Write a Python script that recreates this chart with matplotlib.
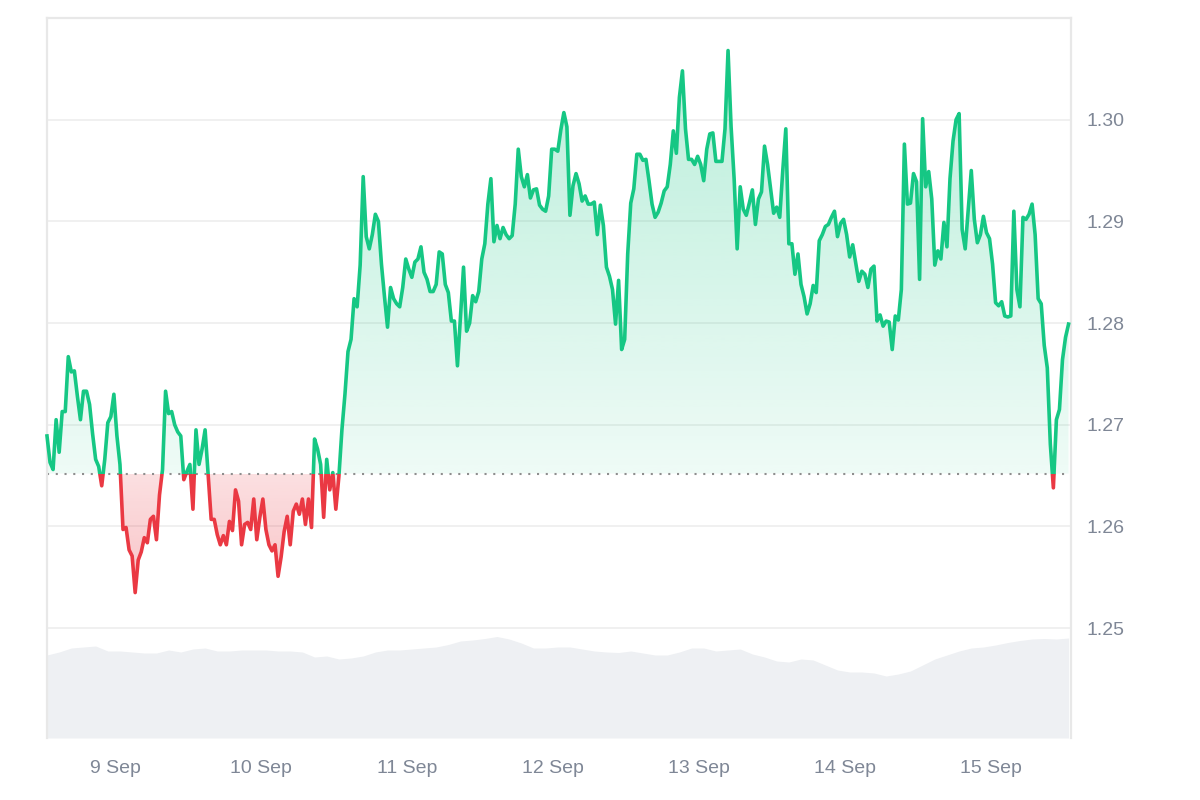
import numpy as np
import pandas as pd
import matplotlib
matplotlib.use("Agg")
import matplotlib.pyplot as plt
import matplotlib.dates as mdates
from matplotlib.colors import to_rgb
from matplotlib.patches import Rectangle
from matplotlib.path import Path

# precio cada 30 minutos desde 8 Sep 12:45
price = [
    1.2689, 1.2663, 1.2656, 1.2705, 1.2673, 1.2713, 1.2713, 1.2767, 1.2752, 1.2753,
    1.2728, 1.2705, 1.2733, 1.2733, 1.2720, 1.2691, 1.2666, 1.2659, 1.2640, 1.2666,
    1.2702, 1.2708, 1.2730, 1.2689, 1.2661, 1.2597, 1.2599, 1.2577, 1.2571, 1.2535,
    1.2567, 1.2575, 1.2589, 1.2584, 1.2607, 1.2610, 1.2587, 1.2631, 1.2656, 1.2733,
    1.2711, 1.2713, 1.2700, 1.2693, 1.2689, 1.2646, 1.2654, 1.2661, 1.2617, 1.2695,
    1.2661, 1.2676, 1.2695, 1.2651, 1.2607, 1.2607, 1.2592, 1.2582, 1.2591, 1.2582,
    1.2605, 1.2596, 1.2636, 1.2625, 1.2582, 1.2602, 1.2604, 1.2597, 1.2627, 1.2587,
    1.2609, 1.2627, 1.2597, 1.2582, 1.2576, 1.2582, 1.2551, 1.2570, 1.2595, 1.2610,
    1.2582, 1.2615, 1.2622, 1.2612, 1.2627, 1.2602, 1.2627, 1.2599, 1.2686, 1.2676,
    1.2661, 1.2609, 1.2666, 1.2636, 1.2653, 1.2617, 1.2649, 1.2695, 1.2730, 1.2772,
    1.2784, 1.2824, 1.2816, 1.2857, 1.2944, 1.2885, 1.2873, 1.2887, 1.2907, 1.2900,
    1.2858, 1.2826, 1.2796, 1.2835, 1.2824, 1.2819, 1.2816, 1.2835, 1.2863, 1.2853,
    1.2845, 1.2860, 1.2863, 1.2875, 1.2850, 1.2843, 1.2831, 1.2831, 1.2838, 1.2870,
    1.2868, 1.2838, 1.2830, 1.2802, 1.2802, 1.2758, 1.2806, 1.2855, 1.2792, 1.2800,
    1.2827, 1.2821, 1.2831, 1.2863, 1.2878, 1.2917, 1.2942, 1.2880, 1.2896, 1.2883,
    1.2894, 1.2887, 1.2883, 1.2886, 1.2917, 1.2971, 1.2944, 1.2934, 1.2946, 1.2923,
    1.2931, 1.2932, 1.2916, 1.2912, 1.2910, 1.2925, 1.2971, 1.2971, 1.2969, 1.2990,
    1.3007, 1.2993, 1.2906, 1.2935, 1.2947, 1.2937, 1.2920, 1.2925, 1.2917, 1.2917,
    1.2919, 1.2887, 1.2916, 1.2896, 1.2855, 1.2846, 1.2833, 1.2799, 1.2842, 1.2774,
    1.2784, 1.2868, 1.2918, 1.2932, 1.2966, 1.2966, 1.2960, 1.2961, 1.2940, 1.2917,
    1.2904, 1.2909, 1.2918, 1.2930, 1.2934, 1.2956, 1.2989, 1.2967, 1.3022, 1.3048,
    1.2991, 1.2961, 1.2961, 1.2956, 1.2964, 1.2956, 1.2940, 1.2971, 1.2986, 1.2987,
    1.2959, 1.2959, 1.2959, 1.2991, 1.3068, 1.2993, 1.2942, 1.2873, 1.2934, 1.2912,
    1.2906, 1.2918, 1.2931, 1.2897, 1.2922, 1.2929, 1.2974, 1.2956, 1.2932, 1.2908,
    1.2914, 1.2904, 1.2950, 1.2991, 1.2878, 1.2878, 1.2848, 1.2868, 1.2838, 1.2826,
    1.2809, 1.2819, 1.2837, 1.2830, 1.2881, 1.2887, 1.2895, 1.2897, 1.2904, 1.2910,
    1.2885, 1.2898, 1.2902, 1.2887, 1.2865, 1.2877, 1.2859, 1.2841, 1.2851, 1.2848,
    1.2835, 1.2853, 1.2856, 1.2802, 1.2808, 1.2797, 1.2802, 1.2801, 1.2774, 1.2807,
    1.2803, 1.2833, 1.2976, 1.2917, 1.2918, 1.2947, 1.2939, 1.2843, 1.3001, 1.2934,
    1.2949, 1.2922, 1.2857, 1.2871, 1.2863, 1.2899, 1.2875, 1.2942, 1.2979, 1.3000,
    1.3006, 1.2892, 1.2873, 1.2912, 1.2950, 1.2902, 1.2879, 1.2887, 1.2905, 1.2889,
    1.2883, 1.2858, 1.2820, 1.2817, 1.2821, 1.2807, 1.2806, 1.2807, 1.2910, 1.2833,
    1.2816, 1.2904, 1.2902, 1.2907, 1.2917, 1.2887, 1.2824, 1.2819, 1.2778, 1.2756,
    1.2681, 1.2638, 1.2705, 1.2715, 1.2764, 1.2786, 1.2799,
]

# volumen cada 2 horas (millones)
volume = [
    8.3, 8.6, 9.0, 9.1, 9.2, 8.7, 8.7, 8.6, 8.5, 8.5,
    8.8, 8.6, 8.9, 9.0, 8.7, 8.7, 8.8, 8.8, 8.8, 8.7,
    8.7, 8.6, 8.1, 8.2, 7.9, 8.0, 8.2, 8.6, 8.8, 8.8,
    8.9, 9.0, 9.1, 9.35, 9.7, 9.8, 9.95, 10.15, 9.9, 9.5,
    9.0, 9.0, 9.1, 9.1, 8.9, 8.7, 8.6, 8.55, 8.7, 8.5,
    8.3, 8.3, 8.6, 9.0, 9.0, 8.7, 8.8, 8.9, 8.4, 8.1,
    7.7, 7.6, 7.9, 7.8, 7.3, 6.8, 6.6, 6.6, 6.5, 6.2,
    6.4, 6.7, 7.3, 7.9, 8.3, 8.7, 9.0, 9.1, 9.3, 9.55,
    9.75, 9.9, 9.95, 9.9, 10.0,
]

day_labels = ["9 Sep", "10 Sep", "11 Sep", "12 Sep", "13 Sep", "14 Sep", "15 Sep"]
price_ticks = [1.25, 1.26, 1.27, 1.28, 1.29, 1.30]
baseline = 1.2652

t = pd.date_range("2024-09-08 12:45", periods=len(price), freq="30min")
tv = pd.date_range("2024-09-08 12:45", periods=len(volume), freq="2h")
days = pd.date_range("2024-09-09", periods=len(day_labels), freq="D")
x = mdates.date2num(t)
xv = mdates.date2num(tv)
p = np.array(price)

green = "#16c784"
red = "#ea3943"
label_color = "#7f8796"
plt.rcParams["font.family"] = ["Liberation Sans", "DejaVu Sans"]

fig = plt.figure(figsize=(12, 8), dpi=100)
pos = [47 / 1200, 62 / 800, 1024 / 1200, 720 / 800]
axv = fig.add_axes(pos)
ax = fig.add_axes(pos)
ax.patch.set_visible(False)

xlim = (x[0], x[-1] + 0.4 / 24)
ylim = (1.2392, 1.3100)

# volumen al fondo
axv.fill_between(xv, volume, 0, color="#eef0f3", lw=0)
axv.set_xlim(*xlim)
axv.set_ylim(0, 72)
axv.axis("off")


def gradient_fill(where, color, y_far, a_far, a_base):
    poly = ax.fill_between(x, p, baseline, where=where, interpolate=True,
                           facecolor="none", edgecolor="none")
    path = Path.make_compound_path(*poly.get_paths())
    rgba = np.zeros((256, 1, 4))
    rgba[..., :3] = to_rgb(color)
    rgba[:, 0, 3] = np.linspace(a_far, a_base, 256)
    lo, hi = (baseline, y_far) if y_far > baseline else (y_far, baseline)
    if y_far < baseline:
        rgba = rgba[::-1]
    im = ax.imshow(rgba, extent=[x[0], x[-1], lo, hi], aspect="auto",
                   origin="upper", zorder=1, interpolation="bilinear")
    im.set_clip_path(path, transform=ax.transData)


gradient_fill(p >= baseline, green, 1.3068, 0.30, 0.07)
gradient_fill(p <= baseline, red, 1.2535, 0.30, 0.16)

# linea verde arriba de la base, roja abajo
up_line, = ax.plot(x, p, color=green, lw=2.6, solid_joinstyle="round", zorder=3)
down_line, = ax.plot(x, p, color=red, lw=2.6, solid_joinstyle="round", zorder=3)
above = Rectangle((x[0] - 1, baseline), 20, 1, transform=ax.transData)
below = Rectangle((x[0] - 1, baseline - 1), 20, 1, transform=ax.transData)
up_line.set_clip_path(above)
down_line.set_clip_path(below)

ax.axhline(baseline, color="#8e8e8e", lw=1.5, ls=(0, (1, 3.2)), zorder=2)

ax.set_xlim(*xlim)
ax.set_ylim(*ylim)

ax.yaxis.tick_right()
ax.set_yticks(price_ticks)
ax.set_yticklabels([f"{v:.2f}" for v in price_ticks])
ax.set_xticks(mdates.date2num(days))
ax.set_xticklabels(day_labels)
ax.tick_params(axis="y", length=0, pad=11, labelsize=14, labelcolor=label_color)
ax.tick_params(axis="x", length=0, pad=16, labelsize=14, labelcolor=label_color)
ax.grid(axis="y", color="#eeeeee", lw=1.2, zorder=0)
ax.set_axisbelow(True)

for side in ["top", "left", "right"]:
    ax.spines[side].set_color("#e8e8e8")
    ax.spines[side].set_linewidth(1.6)
ax.spines["bottom"].set_visible(False)

fig.savefig("out.png", dpi=100)
